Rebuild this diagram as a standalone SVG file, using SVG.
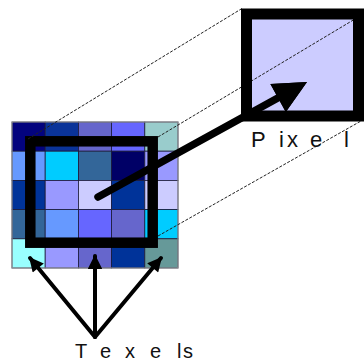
<svg xmlns="http://www.w3.org/2000/svg" width="364" height="363" viewBox="0 0 364 363">
<style>
.cell{stroke:#1a1a3a;stroke-width:0.8}
.dash{fill:none;stroke:#222;stroke-width:1;stroke-dasharray:3 1.5}
.thick{fill:none;stroke:#000;stroke-width:10.5}
.arr{stroke:#000;stroke-width:4;stroke-linecap:round}
.lbl{font-family:"Liberation Sans",Arial,sans-serif;fill:#111}
</style>
<defs>
<marker id="ah" viewBox="0 0 10 10" refX="9" refY="5" markerWidth="4" markerHeight="3.6" orient="auto" markerUnits="strokeWidth">
<path d="M0,0 L10,5 L0,10 z" fill="#000"/>
</marker>
</defs>
<rect width="364" height="363" fill="#fff"/>
<g id="texel-grid">
<rect class="cell" x="12" y="122" width="33.2" height="29.2" fill="#03037e"/>
<rect class="cell" x="45.2" y="122" width="33.2" height="29.2" fill="#0a3399"/>
<rect class="cell" x="78.4" y="122" width="33.2" height="29.2" fill="#6666cc"/>
<rect class="cell" x="111.6" y="122" width="33.2" height="29.2" fill="#6666ff"/>
<rect class="cell" x="144.8" y="122" width="33.2" height="29.2" fill="#99cccc"/>
<rect class="cell" x="12" y="151.2" width="33.2" height="29.2" fill="#6699ff"/>
<rect class="cell" x="45.2" y="151.2" width="33.2" height="29.2" fill="#00ccff"/>
<rect class="cell" x="78.4" y="151.2" width="33.2" height="29.2" fill="#336699"/>
<rect class="cell" x="111.6" y="151.2" width="33.2" height="29.2" fill="#000066"/>
<rect class="cell" x="144.8" y="151.2" width="33.2" height="29.2" fill="#9999ff"/>
<rect class="cell" x="12" y="180.4" width="33.2" height="29.2" fill="#003399"/>
<rect class="cell" x="45.2" y="180.4" width="33.2" height="29.2" fill="#9999ff"/>
<rect class="cell" x="78.4" y="180.4" width="33.2" height="29.2" fill="#ccccff"/>
<rect class="cell" x="111.6" y="180.4" width="33.2" height="29.2" fill="#003399"/>
<rect class="cell" x="144.8" y="180.4" width="33.2" height="29.2" fill="#ccccff"/>
<rect class="cell" x="12" y="209.6" width="33.2" height="29.2" fill="#336699"/>
<rect class="cell" x="45.2" y="209.6" width="33.2" height="29.2" fill="#6699ff"/>
<rect class="cell" x="78.4" y="209.6" width="33.2" height="29.2" fill="#6666ff"/>
<rect class="cell" x="111.6" y="209.6" width="33.2" height="29.2" fill="#6666cc"/>
<rect class="cell" x="144.8" y="209.6" width="33.2" height="29.2" fill="#00ccff"/>
<rect class="cell" x="12" y="238.8" width="33.2" height="29.2" fill="#99ffff"/>
<rect class="cell" x="45.2" y="238.8" width="33.2" height="29.2" fill="#9999ff"/>
<rect class="cell" x="78.4" y="238.8" width="33.2" height="29.2" fill="#6666cc"/>
<rect class="cell" x="111.6" y="238.8" width="33.2" height="29.2" fill="#003399"/>
<rect class="cell" x="144.8" y="238.8" width="33.2" height="29.2" fill="#669999"/>
<rect x="12" y="122" width="166" height="146" fill="none" stroke="#999" stroke-width="1"/>
</g>
<g id="footprint">
<rect class="thick" x="30.3" y="141.3" width="122.4" height="101.4"/>
</g>
<g id="pixel">
<rect x="246.5" y="14" width="112" height="102" fill="#ccccff"/>
</g>
<g id="connectors">
<line class="dash" x1="28" y1="139" x2="242" y2="8.5"/>
<line class="dash" x1="158" y1="137" x2="360" y2="16"/>
<line class="dash" x1="158" y1="236" x2="361" y2="121"/>
<line x1="98" y1="197" x2="281" y2="96.3" stroke="#000" stroke-width="7.5" stroke-linecap="round"/>
<polygon points="307,82 270.4,83.9 285.8,111.9" fill="#000"/>
<line class="arr" x1="95" y1="337" x2="30" y2="258" marker-end="url(#ah)"/>
<line class="arr" x1="95" y1="337" x2="95" y2="256" marker-end="url(#ah)"/>
<line class="arr" x1="95" y1="337" x2="161" y2="258" marker-end="url(#ah)"/>
</g>
<g id="pixel-border">
<rect x="246.5" y="14" width="112" height="102" fill="none" stroke="#000" stroke-width="11"/>
<polygon points="307,82 270.4,83.9 285.8,111.9" fill="#000"/>
<text class="lbl" x="251 279 287 310 344" y="147" font-size="22">Pixel</text>
</g>
<g id="texels-label">
<text class="lbl" x="75 100 125 150 177 183" y="358" font-size="20">Texels</text>
</g>
</svg>
